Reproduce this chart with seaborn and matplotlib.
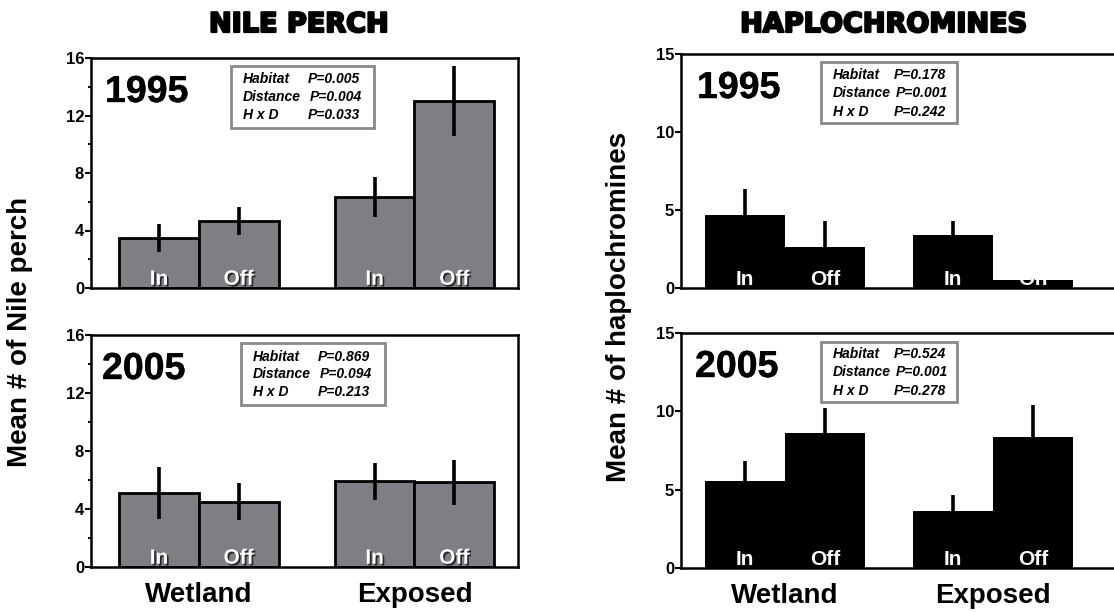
import numpy as np
import pandas as pd
import matplotlib
matplotlib.use("Agg")
import matplotlib.pyplot as plt
import matplotlib.patheffects as pe
from matplotlib.patches import Rectangle
from matplotlib.ticker import MultipleLocator
import seaborn as sns

# ---------------- data ----------------
habitats = ["Wetland", "Exposed"]
distances = ["In", "Off"]
effects = ["Habitat", "Distance", "H x D"]

# order of values: Wetland-In, Wetland-Off, Exposed-In, Exposed-Off
np_1995_mean = [3.5, 4.65, 6.3, 13.0]
np_1995_se = [0.98, 0.96, 1.39, 2.45]
np_2005_mean = [5.1, 4.5, 5.9, 5.85]
np_2005_se = [1.82, 1.29, 1.27, 1.55]
hap_1995_mean = [4.7, 2.63, 3.38, 0.49]
hap_1995_se = [1.67, 1.69, 0.89, 0.1]
hap_2005_mean = [5.57, 8.6, 3.61, 8.36]
hap_2005_se = [1.28, 1.64, 1.06, 2.05]

np_1995_p = ["P=0.005", "P=0.004", "P=0.033"]
np_2005_p = ["P=0.869", "P=0.094", "P=0.213"]
hap_1995_p = ["P=0.178", "P=0.001", "P=0.242"]
hap_2005_p = ["P=0.524", "P=0.001", "P=0.278"]

years = ["1995", "2005"]
titles = ["NILE PERCH", "HAPLOCHROMINES"]
ylabels = ["Mean # of Nile perch", "Mean # of haplochromines"]

# ---------------- style ----------------
sns.set_style("ticks")
plt.rcParams["font.family"] = ["Liberation Sans", "DejaVu Sans"]
plt.rcParams["font.weight"] = "bold"
plt.rcParams["axes.linewidth"] = 1.8
plt.rcParams["text.color"] = "black"
plt.rcParams["axes.labelcolor"] = "black"
plt.rcParams["xtick.color"] = "black"
plt.rcParams["ytick.color"] = "black"
plt.rcParams["axes.edgecolor"] = "black"

W, H = 1114, 612
fig = plt.figure(figsize=(W / 100, H / 100), dpi=100)


def fx(x):
    return x / W


def fy(y):
    return 1 - y / H


def add_axes(x0, x1, ytop, ybot):
    return fig.add_axes([fx(x0), fy(ybot), fx(x1) - fx(x0), (ybot - ytop) / H])


def panel(ax, mean, se, color, width, edge_lw, ylim, major, minor, xlim,
          pvals, year, year_px, box_px, col1, col2, rows, shadow, bottom):
    df = pd.DataFrame({
        "Habitat": np.repeat(habitats, 2),
        "Distance": distances * 2,
        "Mean": mean,
        "SE": se,
    })
    sns.barplot(data=df, x="Habitat", y="Mean", hue="Distance",
                order=habitats, hue_order=distances,
                palette=[color, color], saturation=1, width=width,
                edgecolor="black", linewidth=edge_lw, errorbar=None,
                legend=False, ax=ax)
    bars = sorted(ax.patches, key=lambda p: p.get_x())
    xs = [p.get_x() + p.get_width() / 2 for p in bars]
    ax.errorbar(xs, df["Mean"], yerr=df["SE"], fmt="none", ecolor="black",
                elinewidth=2.6, capsize=0, zorder=5)
    effects_txt = []
    if shadow:
        effects_txt = [pe.SimplePatchShadow(offset=(1.2, -1.2),
                                            shadow_rgbFace="black", alpha=0.7),
                       pe.Normal()]
    for x, lab in zip(xs, df["Distance"]):
        ax.text(x, 0.014, lab, transform=ax.get_xaxis_transform(),
                ha="center", va="baseline", color="white", fontsize=15,
                fontweight="bold", zorder=6, path_effects=effects_txt)
    ax.set_xlim(*xlim)
    ax.set_ylim(*ylim)
    ax.yaxis.set_major_locator(MultipleLocator(major))
    if minor:
        ax.yaxis.set_minor_locator(MultipleLocator(minor))
    ax.tick_params(axis="y", which="major", direction="out", length=4,
                   width=1.5, pad=1, labelsize=12)
    ax.tick_params(axis="y", which="minor", direction="out", length=2.5,
                   width=1.5)
    ax.tick_params(axis="x", length=0, labelsize=20, pad=11)
    ax.set_xlabel("")
    ax.set_ylabel("")
    if not bottom:
        ax.set_xticklabels([])
    for s in ax.spines.values():
        s.set_linewidth(1.8)
        s.set_color("black")

    # year label
    fig.text(fx(year_px[0]), fy(year_px[1]), year, fontsize=27,
             fontweight="bold", ha="left", va="center",
             path_effects=[pe.withStroke(linewidth=0.3, foreground="black")])
    # stat box
    x0, x1, y0, y1 = box_px
    fig.patches.append(Rectangle((fx(x0), fy(y1)), fx(x1) - fx(x0),
                                 (y1 - y0) / H, transform=fig.transFigure,
                                 facecolor="white", edgecolor="#8a8a8a",
                                 linewidth=2.0, zorder=10))
    for i, (eff, pv, ry) in enumerate(zip(effects, pvals, rows)):
        fig.text(fx(col1), fy(ry), eff, fontsize=10, fontstyle="italic",
                 fontweight="bold", ha="left", va="center", zorder=11)
        fig.text(fx(col2 + (2 if i == 1 else 0)), fy(ry), pv, fontsize=10,
                 fontstyle="italic", fontweight="bold", ha="left",
                 va="center", zorder=11)


gray = "#7e7f84"

ax1 = add_axes(91, 518, 58, 288)
panel(ax1, np_1995_mean, np_1995_se, gray, 0.74, 2.0, (0, 16), 4, 2,
      (-0.5, 1.48), np_1995_p, years[0], (105, 92), (231, 374, 66, 128),
      243, 308, (79, 97, 115), True, False)

ax2 = add_axes(91, 518, 335, 567)
panel(ax2, np_2005_mean, np_2005_se, gray, 0.74, 2.0, (0, 16), 4, 2,
      (-0.5, 1.48), np_2005_p, years[1], (102, 369), (241, 385, 343, 405),
      253, 318, (357, 374, 392), True, True)

ax3 = add_axes(681, 1120, 54, 288)
panel(ax3, hap_1995_mean, hap_1995_se, "black", 0.77, 0.0, (0, 15), 5, None,
      (-0.5, 1.61), hap_1995_p, years[0], (697, 88), (821, 957, 62, 123),
      833, 894, (75, 93, 112), False, False)

ax4 = add_axes(681, 1120, 333, 568)
panel(ax4, hap_2005_mean, hap_2005_se, "black", 0.77, 0.0, (0, 15), 5, None,
      (-0.5, 1.61), hap_2005_p, years[1], (695, 367), (821, 957, 342, 402),
      833, 894, (354, 372, 391), False, True)

# titles and y labels
title_fx = [pe.withStroke(linewidth=1.6, foreground="black")]
fig.text(fx(299), fy(25), titles[0], fontsize=19.5, fontweight="bold",
         family="DejaVu Sans", ha="center", va="center", path_effects=title_fx)
fig.text(fx(884), fy(25), titles[1], fontsize=19.5, fontweight="bold",
         family="DejaVu Sans", ha="center", va="center", path_effects=title_fx)
fig.text(fx(20), fy(332), ylabels[0], fontsize=20, fontweight="bold",
         rotation=90, ha="center", va="center")
fig.text(fx(619), fy(307), ylabels[1], fontsize=20, fontweight="bold",
         rotation=90, ha="center", va="center")

fig.savefig("out.png", dpi=100, facecolor="white")
